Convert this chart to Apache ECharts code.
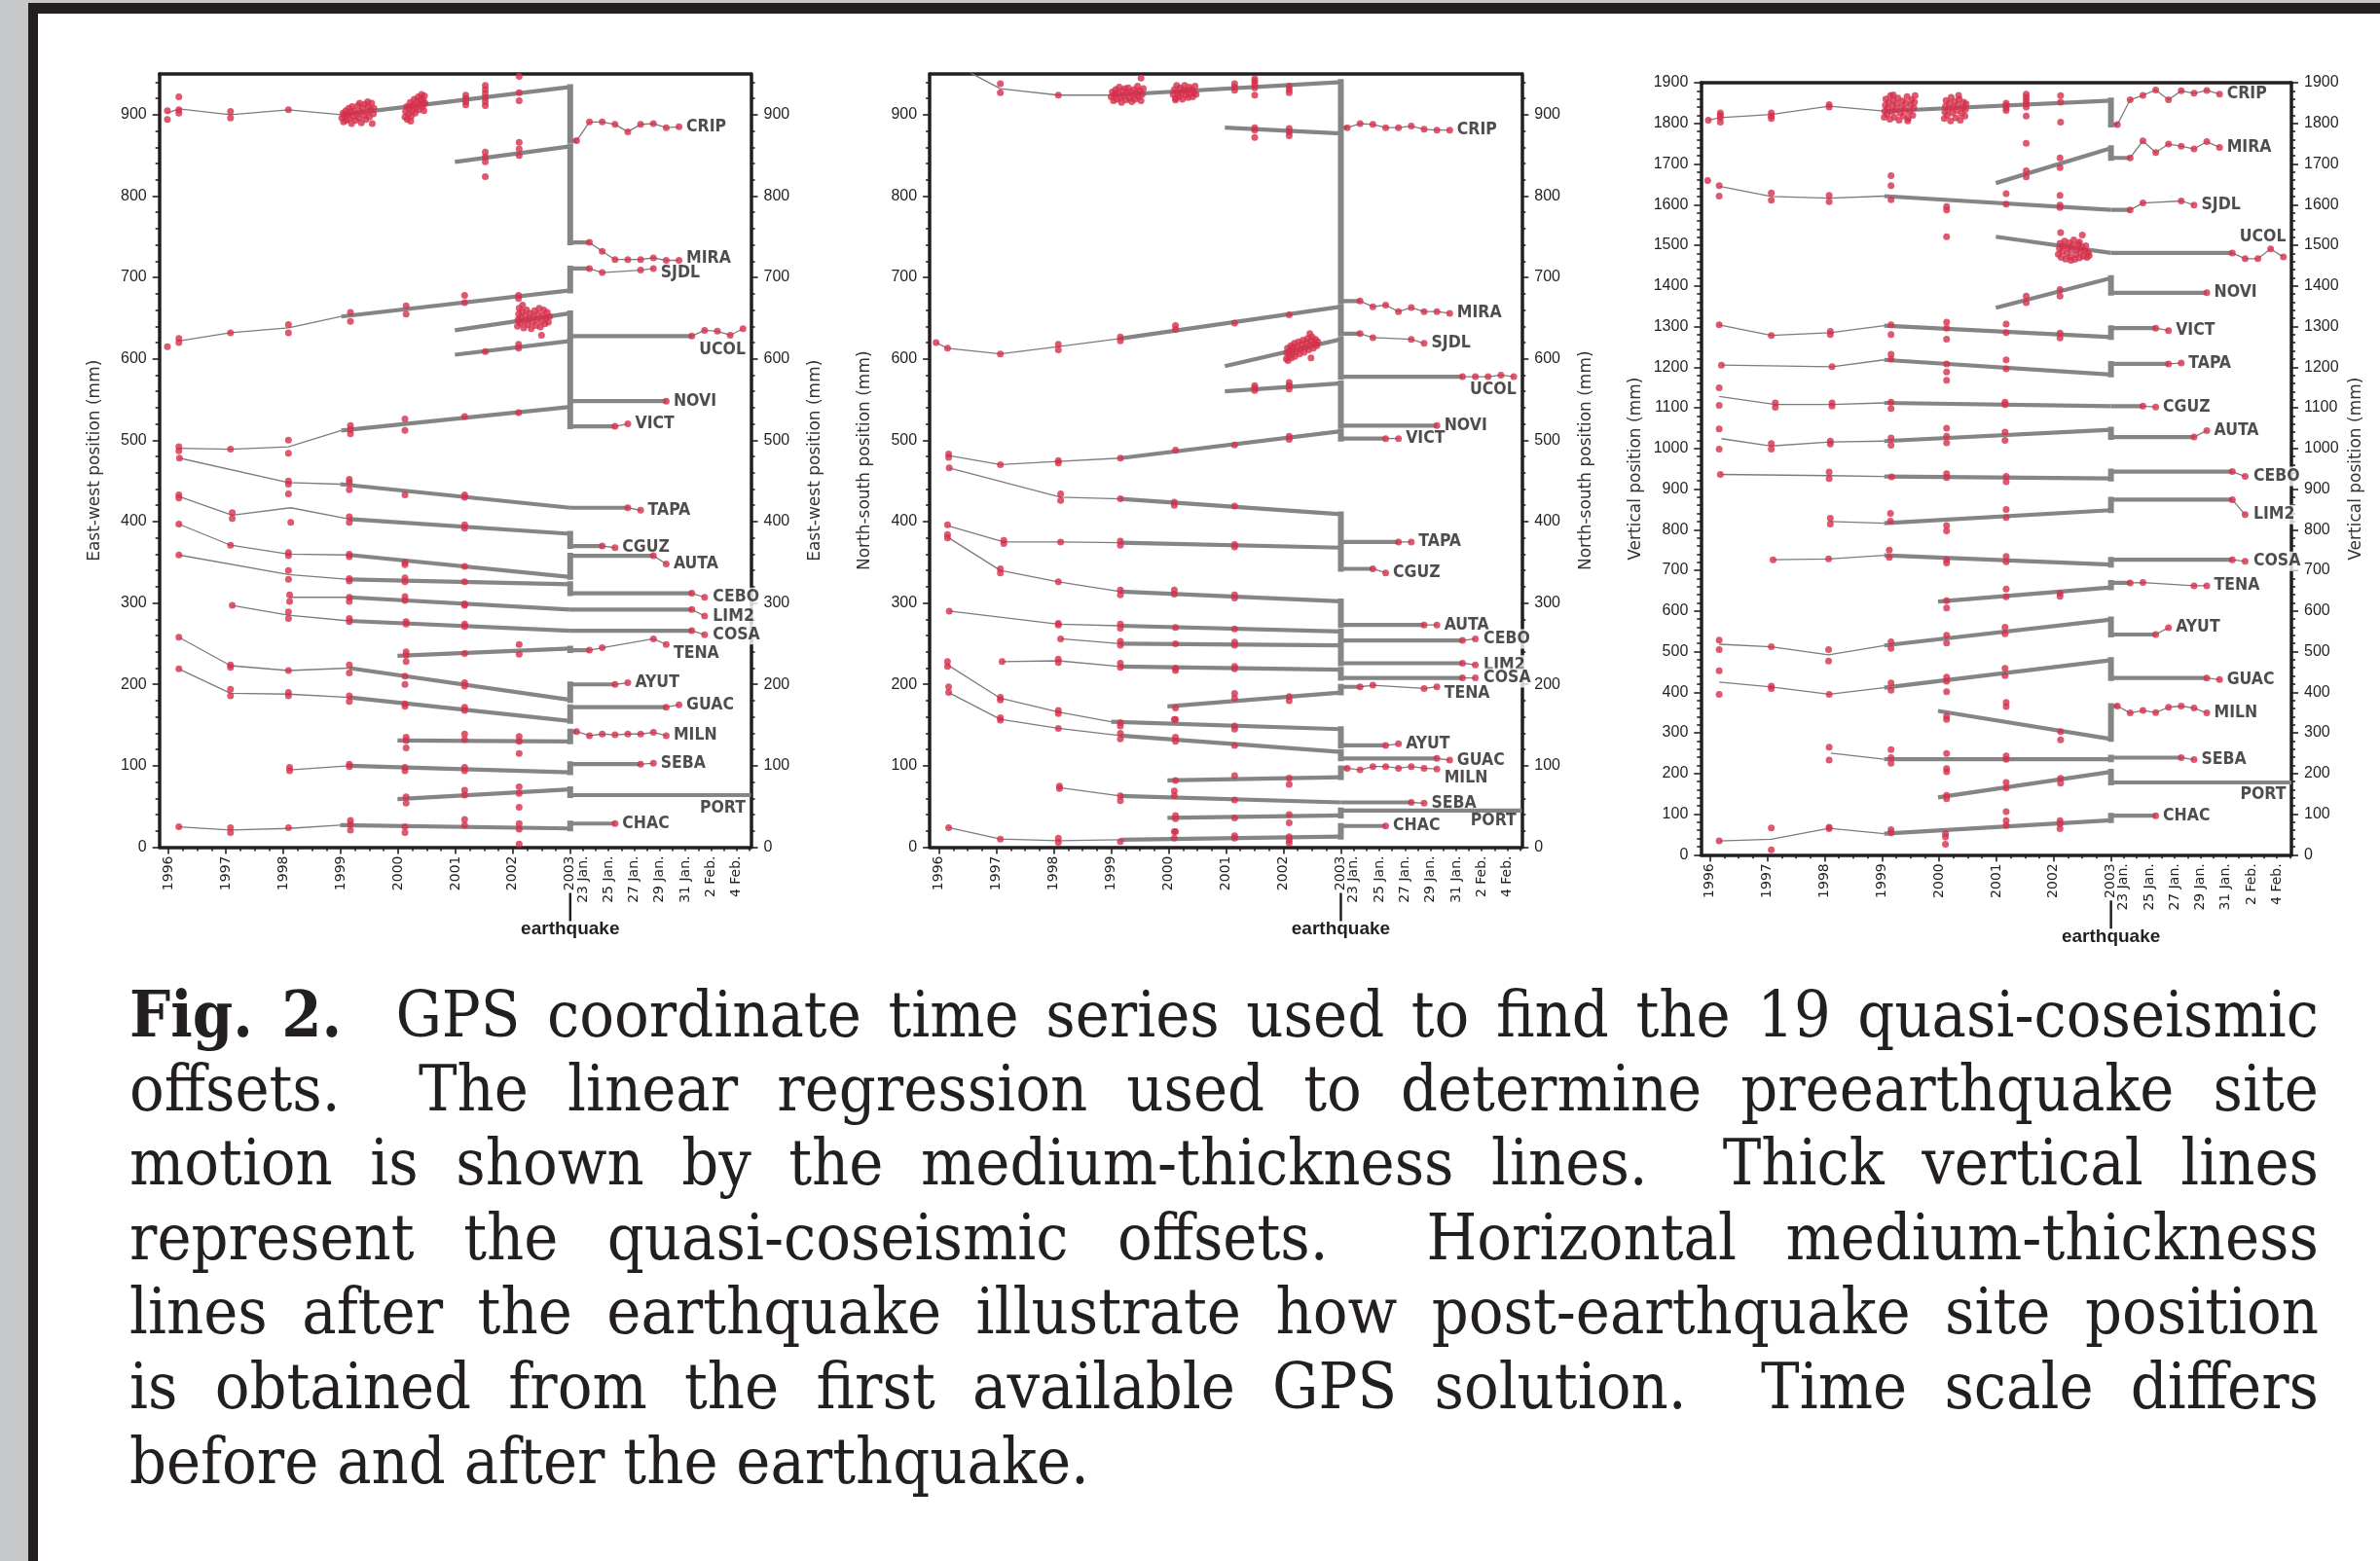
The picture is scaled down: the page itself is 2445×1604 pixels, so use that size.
<!DOCTYPE html>
<html><head><meta charset="utf-8">
<script src="https://cdn.jsdelivr.net/npm/echarts@6/dist/echarts.min.js"></script>
<style>
html,body{margin:0;padding:0;background:#fff;}
#wrap{position:relative;width:2445px;height:1604px;overflow:hidden;background:#fff;}
#chart{position:absolute;left:0;top:0;width:2445px;height:1000px;z-index:1;}
.bar{position:absolute;z-index:2;}
#caption{position:absolute;left:133px;top:1004px;width:2249px;font-family:'DejaVu Serif Condensed','DejaVu Serif',serif;font-size:66px;line-height:76.6px;color:#231f20;z-index:2;}
.ln{white-space:pre;height:76.6px;}
.ln span{display:inline-block;transform-origin:0 0;}
</style></head>
<body><div id="wrap">
<div id="chart"></div>
<div class="bar" style="left:0;top:0;width:29px;height:1604px;background:#c7c8ca"></div>
<div class="bar" style="left:0;top:0;width:2445px;height:3px;background:#c7c8ca"></div>
<div class="bar" style="left:29px;top:3px;width:2416px;height:11px;background:#231f20"></div>
<div class="bar" style="left:29px;top:3px;width:10px;height:1601px;background:#231f20"></div>
<div id="caption">
<div class="ln"><span><b>Fig. 2.</b>  GPS coordinate time series used to find the 19 quasi-coseismic</span></div>
<div class="ln"><span>offsets.  The linear regression used to determine preearthquake site</span></div>
<div class="ln"><span>motion is shown by the medium-thickness lines.  Thick vertical lines</span></div>
<div class="ln"><span>represent the quasi-coseismic offsets.  Horizontal medium-thickness</span></div>
<div class="ln"><span>lines after the earthquake illustrate how post-earthquake site position</span></div>
<div class="ln"><span>is obtained from the first available GPS solution.  Time scale differs</span></div>
<div class="ln"><span>before and after the earthquake.</span></div>
</div>
</div>
<script>
// ---------- categories / ticks ----------
const stations = ['CRIP','MIRA','SJDL','UCOL','NOVI','VICT','TAPA','CGUZ','AUTA','CEBO','LIM2','COSA','TENA','AYUT','GUAC','MILN','SEBA','PORT','CHAC'];
const axisNames = ['East-west position (mm)','North-south position (mm)','Vertical position (mm)'];
const yearTicks = [1996,1997,1998,1999,2000,2001,2002,2003];
const dayTicks = [23,24,25,26,27,28,29,30,31,32,33,34,35,36];      // days counted from 1 Jan 2003
const dayLabelDays = [23,25,27,29,31,33,35];
const dayLabelText = ['23 Jan.','25 Jan.','27 Jan.','29 Jan.','31 Jan.','2 Feb.','4 Feb.'];
const quakeDay = 22;

// ---------- East-west ----------
const ewObs = [
[[1995.98,905],[1995.98,894],[1996.18,922],[1996.18,906],[1996.18,902],[1997.08,904],[1997.08,896],[1998.09,906],
[1999.02,896],[1999.04,902],[1999.05,891],[1999.07,898],[1999.09,905],[1999.10,893],[1999.12,900],[1999.14,908],[1999.15,895],[1999.17,903],[1999.19,889],[1999.20,910],[1999.22,898],[1999.24,905],[1999.26,893],[1999.28,901],[1999.30,911],[1999.32,896],[1999.34,904],[1999.36,890],[1999.38,908],[1999.40,899],[1999.42,913],[1999.44,894],[1999.46,903],[1999.48,910],[1999.50,897],[1999.52,906],[1999.54,914],[1999.55,889],[1999.57,901],[1999.58,908],[1999.47,916],[1999.33,914],
[2000.12,897],[2000.13,904],[2000.15,910],[2000.16,894],[2000.18,901],[2000.20,908],[2000.21,915],[2000.23,898],[2000.25,905],[2000.26,912],[2000.28,919],[2000.30,902],[2000.31,909],[2000.33,916],[2000.35,922],[2000.36,906],[2000.38,913],[2000.40,919],[2000.41,925],[2000.43,910],[2000.44,917],[2000.46,923],[2000.47,914],[2000.45,905],[2000.22,892],
[2001.18,912],[2001.18,916],[2001.18,920],[2001.18,924],[2001.52,911],[2001.52,916],[2001.52,921],[2001.52,926],[2001.52,931],[2001.52,936],[2002.11,947],[2002.11,927],[2002.11,917]],
[[2001.52,854],[2001.52,848],[2001.52,842],[2001.52,824],[2002.11,866],[2002.11,858],[2002.11,850]],
[[1995.98,615],[1996.18,625],[1996.18,620],[1997.08,632],[1998.09,642],[1998.09,632],[1999.17,657],[1999.17,646],[2000.14,665],[2000.14,655],[2001.16,678],[2001.16,669],[2002.10,678],[2002.10,674]],
[[2002.08,640],[2002.09,648],[2002.10,655],[2002.11,662],[2002.13,644],[2002.14,651],[2002.16,658],[2002.17,666],[2002.19,638],[2002.20,646],[2002.22,653],[2002.24,660],[2002.26,642],[2002.28,649],[2002.30,656],[2002.32,637],[2002.34,645],[2002.36,652],[2002.38,659],[2002.40,641],[2002.42,648],[2002.44,655],[2002.46,662],[2002.48,639],[2002.50,646],[2002.52,653],[2002.54,660],[2002.56,643],[2002.58,650],[2002.60,657],[2002.62,645],[2002.64,652],[2002.50,629]],
[[2001.52,609],[2002.10,618],[2002.10,613]],
[[1996.18,492],[1996.18,487],[1997.08,489],[1998.09,500],[1998.09,484],[1999.17,518],[1999.17,513],[1999.17,508],[2000.12,526],[2000.12,512],[2001.16,529],[2002.10,534]],
[[1996.19,478],[1998.09,450],[1998.09,446],[1998.09,434],[1999.15,452],[1999.15,448],[1999.15,439],[2000.12,433],[2001.16,433],[2001.16,430]],
[[1996.18,433],[1996.18,429],[1997.11,411],[1997.11,404],[1998.13,399],[1999.15,406],[1999.15,399],[2001.16,396],[2001.16,392]],
[[1996.18,397],[1997.08,371],[1998.09,362],[1998.09,358],[1999.15,360],[1999.15,357],[2000.12,350],[2000.12,347],[2001.16,345]],
[[1996.18,359],[1998.09,340],[1998.09,329],[1999.15,330],[1999.15,327],[2000.12,331],[2000.12,326],[2001.16,326]],
[[1998.11,310],[1998.11,302],[1999.15,307],[1999.15,302],[2000.12,308],[2000.12,303],[2001.16,299],[2001.16,297]],
[[1997.11,297],[1998.09,289],[1998.09,281],[1999.15,281],[1999.15,277],[2000.14,277],[2000.14,274],[2001.16,274],[2001.16,271]],
[[2000.14,240],[2000.14,236],[2000.14,228],[2001.16,238],[2002.11,249],[2002.11,237]],
[[1996.18,258],[1997.08,224],[1997.08,221],[1998.09,217],[1999.15,224],[1999.15,214],[2000.12,210],[2000.12,200],[2001.16,202],[2001.16,198]],
[[1996.18,219],[1997.08,194],[1997.08,186],[1998.09,190],[1998.09,186],[1999.15,186],[1999.15,179],[2000.12,176],[2000.12,173],[2001.16,172],[2001.16,168]],
[[2000.14,135],[2000.14,131],[2000.14,122],[2001.16,139],[2001.16,132],[2002.11,136],[2002.11,130],[2002.11,115]],
[[1998.11,98],[1998.11,94],[1999.15,102],[1999.15,99],[2000.12,98],[2000.12,94],[2001.16,98],[2001.16,94]],
[[2000.14,62],[2000.14,54],[2001.16,70],[2001.16,64],[2002.11,74],[2002.11,66],[2002.11,49]],
[[1996.18,25],[1997.08,24],[1997.08,18],[1998.09,24],[1999.17,33],[1999.17,28],[1999.17,21],[2000.12,25],[2000.12,18],[2001.16,34],[2001.16,27],[2002.11,29],[2002.11,22],[2002.11,4]]
];
const ewThin = [
[[1995.98,902],[1996.18,907],[1997.08,900],[1998.09,906],[1999.01,900]],[],
[[1996.18,622],[1997.08,632],[1998.09,638],[1999.01,652]],[],[],
[[1996.18,490],[1997.08,489],[1998.09,492],[1999.01,512]],
[[1996.19,478],[1998.09,448],[1998.99,446]],
[[1996.18,431],[1997.11,408],[1998.13,417],[1999.15,403]],
[[1996.18,397],[1997.08,371],[1998.09,360],[1999.15,359]],
[[1996.18,359],[1998.09,335],[1999.15,329]],
[[1998.11,307],[1999.15,307]],
[[1997.11,297],[1998.09,285],[1999.15,278]],[],
[[1996.18,258],[1997.08,223],[1998.09,217],[1999.15,220]],
[[1996.18,219],[1997.08,189],[1998.09,188],[1999.15,184]],[],
[[1998.11,95],[1999.15,100]],[],
[[1996.18,25],[1997.08,21],[1998.09,23],[1998.99,27]]
];
const ewTrend = [[1999.01,900,934],[2000.99,842,861],[1999.01,652,684],[2000.99,635,656],[2000.99,605,622],[1999.01,512,541],[1998.99,446,417],[1999.15,403,385],[1999.15,359,332],[1999.15,329,323],[1999.15,307,292],[1999.15,278,266],[1999.99,235,244],[1999.15,220,181],[1999.15,184,155],[1999.99,131,130],[1999.15,100,92],[1999.99,59,71],[1998.99,27,23]];
const ewAfter = [868,743,711,628,548,517,417,370,358,312,292,266,242,200,172,142,102,64,29];
const ewPost = [
[[22.5,868],[23.5,891],[24.5,891],[25.5,888],[26.5,879],[27.5,888],[28.5,889],[29.5,884],[30.5,885]],
[[23.5,743],[24.5,732],[25.5,722],[26.5,722],[27.5,722],[28.5,724],[29.5,721],[30.5,721]],
[[23.5,711],[24.5,706],[27.5,709],[28.5,711]],
[[31.5,628],[32.5,635],[33.5,634],[34.5,629],[35.5,637]],
[[29.5,548]],[[25.5,517],[26.5,520]],[[26.5,417],[27.5,414]],[[24.5,370],[25.5,368]],[[28.5,358],[29.5,348]],
[[31.5,312],[32.5,307]],[[31.5,292],[32.5,284]],[[31.5,266],[32.5,261]],
[[23.5,242],[24.5,245],[28.5,256],[29.5,249]],
[[25.5,200],[26.5,202]],[[29.5,172],[30.5,175]],
[[22.5,142],[23.5,137],[24.5,139],[25.5,138],[26.5,139],[27.5,139],[28.5,141],[29.5,137]],
[[27.5,102],[28.5,103]],[],[[25.5,29]]
];

// ---------- North-south ----------
const nsObs = [
[[1997.07,938],[1997.07,927],[1998.08,924],
[1999.00,922],[1999.02,928],[1999.04,917],[1999.06,925],[1999.08,931],[1999.10,919],[1999.12,927],[1999.14,934],[1999.16,921],[1999.18,915],[1999.20,929],[1999.22,923],[1999.24,932],[1999.26,918],[1999.28,926],[1999.30,933],[1999.32,920],[1999.34,928],[1999.36,916],[1999.38,924],[1999.40,931],[1999.42,919],[1999.44,927],[1999.46,935],[1999.48,922],[1999.50,929],[1999.52,917],[1999.54,925],[1999.56,932],[1999.52,945],
[2000.08,925],[2000.10,931],[2000.12,920],[2000.14,936],[2000.16,927],[2000.18,922],[2000.20,933],[2000.22,926],[2000.24,919],[2000.26,930],[2000.28,936],[2000.30,924],[2000.32,929],[2000.34,921],[2000.36,934],[2000.38,926],[2000.40,931],[2000.42,922],[2000.44,928],[2000.46,935],[2000.48,925],[2000.12,918],
[2001.15,930],[2001.15,934],[2001.15,938],[2001.50,933],[2001.50,937],[2001.50,941],[2001.50,944],[2001.50,924],[2002.10,927],[2002.10,931],[2002.10,935]],
[[2001.50,884],[2001.50,881],[2001.50,872],[2002.10,883],[2002.10,879],[2002.10,874]],
[[1995.95,620],[1996.15,613],[1997.07,606],[1998.08,618],[1998.08,611],[1999.16,627],[1999.16,622],[2000.12,641],[2000.12,636],[2001.15,644],[2002.10,654]],
[[2002.05,600],[2002.06,607],[2002.07,613],[2002.08,598],[2002.10,604],[2002.11,610],[2002.13,616],[2002.14,601],[2002.16,607],[2002.17,614],[2002.19,619],[2002.20,603],[2002.22,609],[2002.24,615],[2002.26,621],[2002.28,606],[2002.30,612],[2002.32,618],[2002.34,623],[2002.36,608],[2002.38,614],[2002.40,620],[2002.42,625],[2002.44,611],[2002.46,617],[2002.48,622],[2002.50,627],[2002.52,613],[2002.54,619],[2002.56,624],[2002.58,616],[2002.60,621],[2002.46,631],[2002.48,601]],
[[2001.50,567],[2001.50,564],[2001.50,561],[2002.10,571],[2002.10,567],[2002.10,563]],
[[1996.17,483],[1996.17,479],[1997.07,470],[1998.08,475],[1998.08,472],[1999.16,478],[2000.12,488],[2001.15,494],[2002.10,505],[2002.10,501]],
[[1996.18,466],[1998.12,434],[1998.12,426],[1999.16,428],[2000.10,424],[2000.10,420],[2001.15,419]],
[[1996.15,396],[1997.13,377],[1997.13,373],[1998.12,375],[1999.16,376],[1999.16,371],[2001.15,372],[2001.15,369]],
[[1996.15,384],[1996.15,380],[1997.07,342],[1997.07,337],[1998.08,326],[1999.16,316],[1999.16,310],[2000.10,316],[2000.10,311],[2001.15,310],[2001.15,306]],
[[1996.18,290],[1998.08,275],[1998.08,273],[1999.16,274],[1999.16,269],[2000.12,270],[2001.15,268]],
[[1998.12,256],[1999.16,253],[1999.16,248],[2000.12,250],[2001.15,252],[2001.15,248]],
[[1997.10,228],[1998.08,231],[1998.08,227],[1999.16,226],[1999.16,221],[2000.12,220],[2000.12,217],[2001.15,222],[2001.15,219]],
[[2000.12,171],[2000.12,157],[2001.15,189],[2001.15,183],[2002.10,185],[2002.10,180]],
[[1996.15,228],[1996.15,222],[1997.07,184],[1997.07,181],[1998.08,168],[1998.08,164],[1999.16,153],[1999.16,149],[2000.10,157],[2001.15,149],[2001.15,145]],
[[1996.17,197],[1996.17,190],[1997.07,159],[1997.07,156],[1998.08,146],[1999.16,140],[1999.16,133],[2000.12,135],[2000.12,130],[2001.15,125]],
[[2000.12,82],[2001.15,88],[2002.10,85],[2002.10,77]],
[[1998.10,75],[1998.10,72],[1999.16,63],[1999.16,57],[2000.10,69],[2000.10,63],[2001.15,58]],
[[2000.12,39],[2000.12,35],[2000.12,19],[2001.15,36],[2002.10,40],[2002.10,30]],
[[1996.17,24],[1997.07,10],[1998.08,11],[1998.08,6],[1999.16,7],[2000.10,19],[2000.10,11],[2001.15,14],[2001.15,11],[2002.10,13],[2002.10,9],[2002.10,5]]
];
const nsThin = [
[[1996.18,965],[1997.07,932],[1998.08,924],[1999.02,924]],[],
[[1995.95,620],[1996.15,613],[1997.07,606],[1998.08,615],[1999.16,625]],[],[],
[[1996.17,481],[1997.07,470],[1998.08,474],[1999.16,478]],
[[1996.18,466],[1998.12,430],[1999.16,428]],
[[1996.15,395],[1997.13,375],[1998.12,375],[1999.16,374]],
[[1996.15,381],[1997.07,340],[1998.08,326],[1999.16,314]],
[[1996.18,290],[1998.08,274],[1999.16,272]],
[[1998.12,256],[1999.16,250]],
[[1997.10,228],[1998.08,229],[1999.16,222]],[],
[[1996.15,224],[1997.07,183],[1998.08,166],[1999.00,154]],
[[1996.17,190],[1997.07,157],[1998.08,146],[1999.16,137]],[],
[[1998.10,73],[1999.16,63]],[],
[[1996.17,24],[1997.07,10],[1998.08,8],[1999.16,9]]
];
const nsTrend = [[1999.02,924,940],[2000.98,884,877],[1999.16,625,664],[2000.98,591,624],[2000.98,560,570],[1999.16,478,511],[1999.16,428,409],[1999.16,374,368],[1999.16,314,302],[1999.16,272,265],[1999.16,250,248],[1999.16,222,218],[1999.98,173,190],[1999.00,154,145],[1999.16,137,117],[1999.98,82,86],[1999.16,63,55],[1999.98,36,39],[1999.16,9,13]];
const nsAfter = [884,671,631,578,518,502,375,342,273,254,226,208,197,125,109,97,55,45,26];
const nsPost = [
[[22.5,884],[23.5,889],[24.5,888],[25.5,884],[26.5,884],[27.5,886],[28.5,882],[29.5,881],[30.5,881]],
[[23.5,671],[24.5,664],[25.5,666],[26.5,658],[27.5,663],[28.5,658],[29.5,658],[30.5,656]],
[[23.5,631],[24.5,626],[27.5,624],[28.5,619]],
[[31.5,578],[32.5,578],[33.5,578],[34.5,580],[35.5,578]],
[[29.5,518]],[[25.5,502],[26.5,502]],[[26.5,375],[27.5,375]],[[24.5,342],[25.5,337]],[[28.5,273],[29.5,273]],
[[31.5,254],[32.5,256]],[[31.5,226],[32.5,224]],[[31.5,208],[32.5,208]],
[[23.5,197],[24.5,199],[28.5,195],[29.5,197]],
[[25.5,125],[26.5,127]],[[29.5,109],[30.5,107]],
[[22.5,97],[23.5,95],[24.5,99],[25.5,99],[26.5,97],[27.5,99],[28.5,97],[29.5,96]],
[[27.5,55],[28.5,54]],[],[[25.5,26]]
];

// ---------- Vertical ----------
const upObs = [
[[1995.97,1808],[1996.18,1826],[1996.18,1820],[1996.18,1814],[1996.18,1803],[1997.07,1826],[1997.07,1818],[1997.07,1812],[1998.08,1846],[1998.08,1840],
[1999.04,1815],[1999.05,1830],[1999.06,1845],[1999.07,1860],[1999.09,1822],[1999.10,1838],[1999.12,1852],[1999.14,1810],[1999.15,1868],[1999.17,1828],[1999.19,1843],[1999.20,1857],[1999.22,1815],[1999.24,1833],[1999.26,1848],[1999.28,1862],[1999.30,1808],[1999.32,1825],[1999.34,1840],[1999.36,1855],[1999.38,1818],[1999.40,1835],[1999.42,1850],[1999.44,1866],[1999.46,1812],[1999.48,1828],[1999.50,1845],[1999.52,1858],[1999.54,1820],[1999.56,1838],[1999.57,1852],[1999.58,1868],[1999.45,1806],[1999.20,1870],
[2000.09,1812],[2000.10,1828],[2000.11,1842],[2000.12,1856],[2000.14,1820],[2000.16,1835],[2000.18,1850],[2000.20,1806],[2000.21,1864],[2000.23,1826],[2000.25,1840],[2000.27,1854],[2000.29,1814],[2000.31,1832],[2000.33,1846],[2000.35,1860],[2000.37,1808],[2000.39,1824],[2000.41,1838],[2000.43,1852],[2000.45,1818],[2000.46,1834],[2000.47,1848],[2000.34,1869],
[2001.17,1832],[2001.17,1838],[2001.17,1844],[2001.17,1850],[2001.52,1840],[2001.52,1848],[2001.52,1856],[2001.52,1864],[2001.52,1872],[2001.52,1818],[2001.52,1751],[2002.12,1868],[2002.12,1852],[2002.12,1803]],
[[2001.52,1683],[2001.52,1668],[2002.11,1715],[2002.11,1691]],
[[1995.96,1659],[1996.16,1647],[1996.16,1621],[1997.07,1629],[1997.07,1611],[1998.08,1623],[1998.08,1607],[1999.16,1671],[1999.16,1647],[1999.16,1612],[2000.13,1595],[2000.13,1587],[2000.13,1521],[2001.17,1627],[2001.17,1601],[2002.11,1623],[2002.11,1599],[2002.11,1593]],
[[2002.08,1478],[2002.10,1492],[2002.11,1505],[2002.12,1531],[2002.13,1470],[2002.15,1485],[2002.17,1498],[2002.19,1510],[2002.21,1466],[2002.23,1480],[2002.25,1494],[2002.27,1506],[2002.29,1472],[2002.31,1488],[2002.33,1500],[2002.35,1513],[2002.37,1465],[2002.39,1477],[2002.41,1490],[2002.43,1503],[2002.45,1469],[2002.47,1483],[2002.49,1496],[2002.50,1525],[2002.52,1473],[2002.54,1486],[2002.56,1499],[2002.58,1470],[2002.60,1482],[2002.62,1475],[2002.30,1463],[2002.45,1508]],
[[2001.52,1375],[2001.52,1359],[2002.11,1391],[2002.11,1375]],
[[1996.16,1304],[1997.07,1278],[1998.10,1288],[1998.10,1280],[1999.16,1304],[1999.16,1280],[2000.13,1311],[2000.13,1296],[2000.13,1269],[2001.17,1306],[2001.17,1285],[2002.11,1284],[2002.11,1272]],
[[1996.20,1205],[1998.13,1201],[1999.16,1232],[1999.16,1220],[2000.13,1208],[2000.13,1188],[2000.13,1168],[2001.17,1218],[2001.17,1196]],
[[1996.16,1149],[1996.16,1106],[1997.14,1112],[1997.14,1101],[1998.13,1112],[1998.13,1104],[1999.16,1114],[1999.16,1098],[2001.15,1114],[2001.15,1108]],
[[1996.16,1048],[1996.16,998],[1997.07,1012],[1997.07,998],[1998.10,1018],[1998.10,1011],[1999.16,1026],[1999.16,1008],[2000.13,1050],[2000.13,1030],[2000.13,1014],[2001.15,1040],[2001.15,1020]],
[[1996.18,936],[1998.08,942],[1998.08,926],[1999.17,930],[2000.13,938],[2000.13,928],[2001.17,931],[2001.17,918]],
[[1998.10,828],[1998.10,814],[1999.15,840],[1999.15,821],[2000.13,810],[2000.13,797],[2001.17,850],[2001.17,830]],
[[1997.10,726],[1998.07,728],[1999.13,750],[1999.13,732],[2000.13,726],[2000.13,718],[2001.17,734],[2001.17,721]],
[[2000.13,625],[2000.13,607],[2001.17,654],[2001.17,635],[2002.11,644],[2002.11,636]],
[[1996.16,528],[1996.16,505],[1997.07,512],[1998.07,505],[1998.07,477],[1999.16,524],[1999.16,508],[2000.13,540],[2000.13,521],[2001.15,560],[2001.15,544]],
[[1996.16,453],[1996.16,395],[1997.07,415],[1997.07,409],[1998.08,395],[1999.16,423],[1999.16,405],[2000.13,437],[2000.13,427],[2000.13,401],[2001.15,459],[2001.15,441]],
[[2000.13,341],[2000.13,333],[2001.17,375],[2001.17,365],[2002.12,303],[2002.12,283]],
[[1998.08,265],[1998.08,233],[1999.16,259],[1999.16,239],[1999.16,225],[2000.13,249],[2000.13,212],[2000.13,204],[2001.17,243],[2001.17,235]],
[[2000.13,146],[2000.13,138],[2001.17,178],[2001.17,164],[2002.12,188],[2002.12,176]],
[[1996.16,34],[1997.07,66],[1997.07,12],[1998.08,68],[1998.08,64],[1999.16,62],[1999.16,54],[2000.11,52],[2000.11,44],[2000.11,26],[2001.17,106],[2001.17,84],[2001.17,72],[2002.11,84],[2002.11,76],[2002.11,64]]
];
const upThin = [
[[1995.97,1808],[1996.18,1814],[1997.07,1822],[1998.08,1842],[1999.04,1830]],[],
[[1996.16,1645],[1997.07,1620],[1998.08,1616],[1999.04,1621]],[],[],
[[1996.16,1304],[1997.07,1278],[1998.10,1285],[1999.04,1302]],
[[1996.20,1205],[1998.13,1201],[1999.04,1218]],
[[1996.16,1128],[1997.14,1108],[1998.13,1108],[1999.04,1112]],
[[1996.20,1024],[1997.07,1006],[1998.10,1016],[1999.04,1018]],
[[1996.18,936],[1998.08,933],[1999.04,931]],
[[1998.10,820],[1999.04,816]],
[[1997.10,726],[1998.07,728],[1999.04,737]],[],
[[1996.16,518],[1997.07,512],[1998.07,492],[1999.04,515]],
[[1996.16,425],[1997.07,413],[1998.08,395],[1999.04,411]],[],
[[1998.11,250],[1999.04,235]],[],
[[1996.16,34],[1997.07,38],[1998.08,65],[1999.04,52]]
];
const upTrend = [[1999.04,1830,1856],[2000.99,1653,1739],[1999.04,1621,1587],[2000.99,1521,1481],[2000.99,1346,1419],[1999.04,1302,1274],[1999.04,1218,1182],[1999.04,1112,1104],[1999.04,1018,1046],[1999.04,931,926],[1999.04,816,848],[1999.04,737,714],[1999.98,623,658],[1999.04,515,579],[1999.04,411,479],[1999.98,354,285],[1999.04,235,235],[1999.98,141,204],[1999.04,52,85]];
const upAfter = [1797,1715,1587,1481,1383,1296,1208,1104,1028,943,874,726,669,542,435,366,239,178,96];
const upPost = [
[[22.5,1797],[23.5,1858],[24.5,1869],[25.5,1882],[26.5,1858],[27.5,1880],[28.5,1874],[29.5,1881],[30.5,1872]],
[[23.5,1715],[24.5,1757],[25.5,1728],[26.5,1749],[27.5,1744],[28.5,1737],[29.5,1755],[30.5,1741]],
[[23.5,1587],[24.5,1604],[27.5,1609],[28.5,1599]],
[[31.5,1481],[32.5,1467],[33.5,1467],[34.5,1491],[35.5,1471]],
[[29.5,1383]],[[25.5,1296],[26.5,1290]],[[26.5,1208],[27.5,1210]],[[24.5,1104],[25.5,1102]],[[28.5,1028],[29.5,1044]],
[[31.5,943],[32.5,931]],[[31.5,874],[32.5,837]],[[31.5,726],[32.5,722]],
[[23.5,669],[24.5,670],[28.5,662],[29.5,662]],
[[25.5,542],[26.5,559]],[[29.5,435],[30.5,431]],
[[22.5,366],[23.5,349],[24.5,355],[25.5,350],[26.5,363],[27.5,366],[28.5,361],[29.5,349]],
[[27.5,239],[28.5,234]],[],[[25.5,96]]
];

// ---------- layout & style (not data) ----------
const X_MIN = 1995.84, X_MAX = 2006.15, DAY = 0.223;   // post-quake time scale: one day in axis units
const layout = [
  {left:163.7, width:607.8, top:76, height:794.5, yMax:950},
  {left:955.1, width:608.2, top:76, height:794.5, yMax:950},
  {left:1747.3, width:606.7, top:85, height:793.3, yMax:1900}
];
const labelTweaks = [
  {UCOL:{frame:true, dy:14}, PORT:{frame:true, dy:13}, TENA:{dy:9}, MIRA:{dy:-2}, SJDL:{dy:5}},
  {UCOL:{frame:true, dy:13}, PORT:{frame:true, dy:11}, TENA:{dy:7}, MILN:{dy:9}},
  {UCOL:{frame:true, dy:-16}, PORT:{frame:true, dy:12}}
];
const labelBg = ['CEBO','LIM2','COSA'];
const F_SANS = "'DejaVu Sans', Verdana, sans-serif";
const F_TICK = "'Liberation Sans', Arial, sans-serif";
const F_LAB = "'Liberation Sans Narrow', 'Arial Narrow', 'DejaVu Sans Condensed', sans-serif";
const INK = '#231f20', RED = '#d62f4b', GREY = '#858585', GREY_T = '#7c7c7c';

const toX = d => 2003 + (d - quakeDay) * DAY;
const panels = [
  {obs:ewObs, thin:ewThin, trend:ewTrend, after:ewAfter, post:ewPost},
  {obs:nsObs, thin:nsThin, trend:nsTrend, after:nsAfter, post:nsPost},
  {obs:upObs, thin:upThin, trend:upTrend, after:upAfter, post:upPost}
];

const quarterTicks = [];
yearTicks.slice(0, -1).forEach(y => { quarterTicks.push(y + 0.25, y + 0.5, y + 0.75); });
const minorX = quarterTicks.concat(dayTicks.map(toX));
const labelX = yearTicks.concat(dayLabelDays.map(toX));
function xLabel(v) {
  if (v <= 2003.001) return String(Math.round(v));
  const d = Math.round((v - 2003) / DAY + quakeDay);
  const i = dayLabelDays.indexOf(d);
  return i >= 0 ? dayLabelText[i] : '';
}

const grid = [], xAxis = [], yAxis = [], series = [];
const lineW = 3.5, tickStyle = {color: INK, width: 1.6};
layout.forEach((L, i) => {
  grid.push({left: L.left, top: L.top, width: L.width, height: L.height, containLabel: false});
  const xBase = {type:'value', gridIndex:i, min:X_MIN, max:X_MAX, splitLine:{show:false}};
  xAxis.push(Object.assign({}, xBase, {position:'bottom',
    axisLine:{show:true, onZero:false, lineStyle:{color:INK, width:lineW}},
    axisTick:{show:true, customValues:yearTicks, length:7, lineStyle:tickStyle},
    axisLabel:{show:true, customValues:labelX, formatter:xLabel, rotate:90, margin:9, fontFamily:F_SANS, fontSize:14, color:INK}}));
  xAxis.push(Object.assign({}, xBase, {position:'bottom', axisLine:{show:false},
    axisTick:{show:true, customValues:minorX, length:4, lineStyle:tickStyle}, axisLabel:{show:false}}));
  xAxis.push(Object.assign({}, xBase, {position:'top', axisLine:{show:true, onZero:false, lineStyle:{color:INK, width:lineW}},
    axisTick:{show:false}, axisLabel:{show:false}}));
  const major = [], minor = [];
  for (let v = 0; v <= L.yMax; v += 20) { if (v % 100 === 0) major.push(v); else if (v < L.yMax) minor.push(v); }
  ['left','right'].forEach(pos => {
    const yBase = {type:'value', gridIndex:i, min:0, max:L.yMax, position:pos, splitLine:{show:false}};
    yAxis.push(Object.assign({}, yBase, {
      name: axisNames[i], nameLocation:'middle', nameGap:58, nameRotate:90,
      nameTextStyle:{fontFamily:F_SANS, fontSize:17, color:'#333'},
      axisLine:{show:true, onZero:false, lineStyle:{color:INK, width:lineW}},
      axisTick:{show:true, customValues:major, length:7, lineStyle:tickStyle},
      axisLabel:{show:true, customValues:major, formatter: v => String(v), margin:13, fontFamily:F_TICK, fontSize:16, color:INK}}));
    yAxis.push(Object.assign({}, yBase, {axisLine:{show:false},
      axisTick:{show:true, customValues:minor, length:4, lineStyle:tickStyle}, axisLabel:{show:false}}));
  });

  const P = panels[i], xi = i * 3, yi = i * 4;
  const mk = (data, color, width, cap, z) => ({type:'line', data, xAxisIndex:xi, yAxisIndex:yi, symbol:'none',
    silent:true, animation:false, z, lineStyle:{color, width, cap}});
  const dots = [], labels = [];
  stations.forEach((name, s) => {
    P.obs[s].forEach(d => dots.push(d));
    if (P.thin[s].length) series.push(mk(P.thin[s], GREY_T, 1.3, 'butt', 2));
    const [ys, vs, ve] = P.trend[s];
    const lv = P.after[s];
    series.push(mk([[ys, vs], [2003, ve]], GREY, 4.2, 'butt', 2));
    series.push(mk([[2003, ve], [2003, lv]], GREY, 6, 'square', 2));
    const post = P.post[s].map(([d, v]) => [toX(d), v]);
    series.push(mk([[2003, lv], [post.length ? post[0][0] : X_MAX, lv]], GREY, 4.2, 'butt', 2));
    if (post.length > 1) series.push(mk(post, GREY_T, 1.3, 'butt', 2));
    post.forEach(d => dots.push(d));
    const tw = labelTweaks[i][name] || {};
    const bg = labelBg.indexOf(name) >= 0;
    let value, position, distance;
    if (tw.frame || !post.length) { value = [X_MAX - 0.001, lv]; position = 'left'; distance = 5; }
    else { value = post[post.length - 1]; position = 'right'; distance = 7; }
    labels.push({value, label:{show:true, formatter:name, position, distance, offset:[0, tw.dy || 0],
      backgroundColor: bg ? '#fff' : 'transparent', padding: bg ? [1, 1, 1, 1] : 0}});
  });
  series.push({type:'scatter', data:dots, xAxisIndex:xi, yAxisIndex:yi, symbol:'circle', symbolSize:7,
    itemStyle:{color:RED}, silent:true, animation:false, z:3});
  series.push({type:'scatter', data:labels, xAxisIndex:xi, yAxisIndex:yi, symbolSize:1, clip:false,
    itemStyle:{color:'rgba(0,0,0,0)'}, silent:true, animation:false, z:4,
    label:{fontFamily:F_LAB, fontWeight:'bold', fontSize:17.5, color:INK}});
});

const chart = echarts.init(document.getElementById('chart'), null, {renderer:'canvas'});
chart.setOption({animation:false, grid, xAxis, yAxis, series});

const g = [];
layout.forEach((L, i) => {
  const x = chart.convertToPixel({xAxisIndex: i * 3}, 2003);
  const yb = L.top + L.height;
  g.push({type:'line', silent:true, shape:{x1:x, y1:yb + 47, x2:x, y2:yb + 76}, style:{stroke:INK, lineWidth:2.5}});
  g.push({type:'text', silent:true, x:x, y:yb + 84, style:{text:'earthquake', font:"bold 19px 'Liberation Sans', Arial, sans-serif",
    fill:INK, align:'center', verticalAlign:'middle', textAlign:'center', textVerticalAlign:'middle'}});
});
chart.setOption({graphic: g});

// justify caption lines
const W = 2249;
const lines = document.querySelectorAll('#caption .ln');
lines.forEach((ln, i) => {
  const sp = ln.firstElementChild;
  const w = sp.getBoundingClientRect().width;
  if (w > W) { sp.style.transform = 'scaleX(' + (W / w) + ')'; }
  else if (i < lines.length - 1) {
    const n = (sp.textContent.match(/ /g) || []).length;
    sp.style.wordSpacing = ((W - w) / n) + 'px';
  }
});
</script>
</body></html>
